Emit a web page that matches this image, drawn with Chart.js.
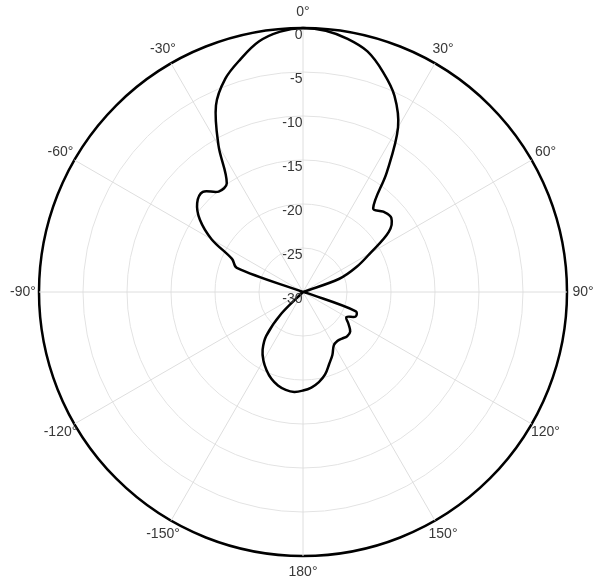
<!DOCTYPE html>
<html>
<head>
<meta charset="utf-8">
<script src="https://cdn.jsdelivr.net/npm/chart.js@4/dist/chart.umd.min.js"></script>
<style>
  body { margin: 0; background: #fff; }
  canvas { display: block; }
</style>
</head>
<body>
<canvas id="patternChart" width="593" height="582"></canvas>
<script>
// ====== Datos del patrón (dB) ======
// angulos cada 5 grados, sentido horario desde arriba
const angles = [
  0, 5, 10, 15, 20, 25, 30, 35, 40, 45, 50, 55,
  60, 65, 70, 75, 80, 85, 90, 95, 100, 105, 110, 115,
  120, 125, 130, 135, 140, 145, 150, 155, 160, 165, 170, 175,
  180, 185, 190, 195, 200, 205, 210, 215, 220, 225, 230, 235,
  240, 245, 250, 255, 260, 265, 270, 275, 280, 285, 290, 295,
  300, 305, 310, 315, 320, 325, 330, 335, 340, 345, 350, 355
];

const gainDb = [
  0, -0.2, -0.8, -1.7, -3.4, -5.4, -8.4, -13.4, -17.6, -17.1, -16.9, -18.1,
  -21.2, -23.3, -25.6, -30, -30, -30, -30, -30, -30, -29.5, -23.6, -23.4,
  -24.3, -23.7, -23.0, -22.9, -23.1, -23.2, -23.0, -22.1, -21.3, -20.3, -19.6, -19.1,
  -18.8, -18.6, -18.7, -19.0, -19.5, -20.2, -21.0, -22.0, -23.5, -26.5, -30, -30,
  -30, -30, -30, -30, -30, -30, -30, -30, -30, -30, -22.0, -21.1,
  -18.0, -15.7, -14.3, -13.9, -15.1, -14.9, -10.8, -6.6, -4.2, -2.6, -1.1, -0.3
];

const angleTickLabels = ['0°', '30°', '60°', '90°', '120°', '150°', '180°', '-150°', '-120°', '-90°', '-60°', '-30°'];
const radiusTicks = [0, -5, -10, -15, -20, -25, -30];

// ====== Etiquetas dibujadas a mano (estilo polar) ======
const polarLabels = {
  id: 'polarLabels',
  afterDraw(chart) {
    const scale = chart.scales.r;
    const ctx = chart.ctx;
    ctx.save();
    ctx.font = '14px "Liberation Sans", Arial, sans-serif';
    ctx.fillStyle = '#383838';

    // angulos
    ctx.textAlign = 'center';
    ctx.textBaseline = 'middle';
    angleTickLabels.forEach((txt, k) => {
      const p = scale.getPointPosition(k * 6, scale.drawingArea + 16);
      ctx.fillText(txt, p.x, p.y);
    });

    // valores del radio
    ctx.textAlign = 'right';
    radiusTicks.forEach(v => {
      const d = scale.getDistanceFromCenterForValue(v);
      ctx.fillText(String(v), scale.xCenter - 0.5, scale.yCenter - d + 7);
    });
    ctx.restore();
  }
};

const ctx = document.getElementById('patternChart').getContext('2d');
new Chart(ctx, {
  type: 'radar',
  data: {
    labels: angles,
    datasets: [{
      data: gainDb,
      borderColor: '#000',
      borderWidth: 2.5,
      backgroundColor: 'rgba(0,0,0,0)',
      fill: false,
      pointRadius: 0,
      tension: 0.35
    }]
  },
  options: {
    responsive: false,
    animation: false,
    layout: { padding: { left: 39, right: 25, top: 28, bottom: 26 } },
    plugins: {
      legend: { display: false },
      tooltip: { enabled: false }
    },
    scales: {
      r: {
        min: -30,
        max: 0,
        ticks: { stepSize: 5, display: false },
        pointLabels: { display: false },
        grid: {
          circular: true,
          color: c => c.tick && c.tick.value === 0 ? '#000' : '#e3e3e3',
          lineWidth: c => c.tick && c.tick.value === 0 ? 2.5 : 1
        },
        angleLines: {
          color: c => c.index % 6 === 0 ? '#dedede' : 'rgba(0,0,0,0)',
          lineWidth: c => c.index % 6 === 0 ? 1 : 0
        }
      }
    }
  },
  plugins: [polarLabels]
});
</script>
</body>
</html>
